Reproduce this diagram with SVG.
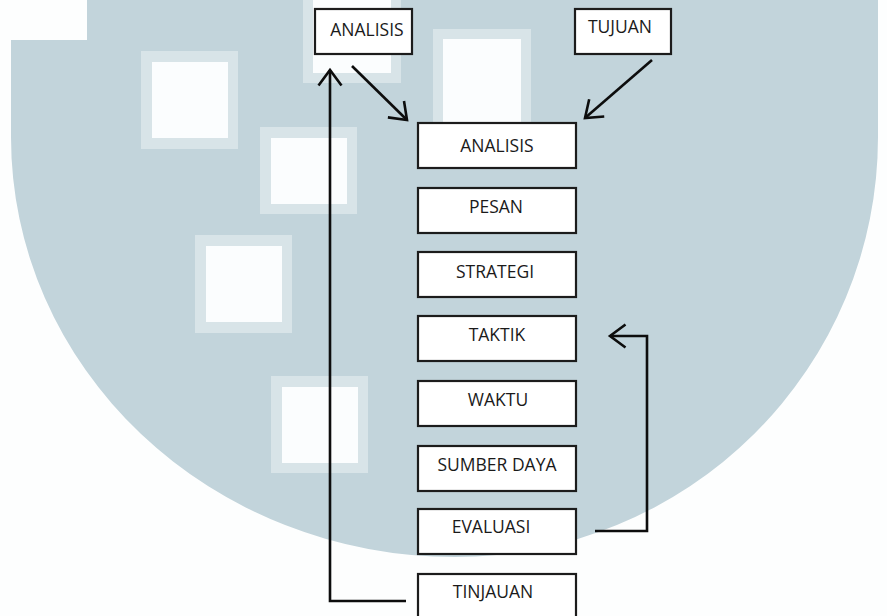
<svg xmlns="http://www.w3.org/2000/svg" width="887" height="616" viewBox="0 0 887 616">
<defs>
<style>
.bg{fill:#c2d4db}
.sqo{fill:#d8e4e8}
.sqi{fill:#fbfdfe}
.box{fill:#ffffff;stroke:#1c1c1c;stroke-width:2.2}
.lbl{font-family:"Open Sans","Liberation Sans",sans-serif;font-size:17.5px;fill:#1a1a1a;text-anchor:middle}
.con{fill:none;stroke:#0d0d0d;stroke-width:2.6;marker-end:url(#chev)}
</style>
<marker id="chev" markerUnits="userSpaceOnUse" viewBox="-20 -15 25 30" refX="0" refY="0" markerWidth="25" markerHeight="30" orient="auto" overflow="visible">
<path d="M-15.5,-11.5 L0,0 L-15.5,11.5" fill="none" stroke="#0d0d0d" stroke-width="2.6" stroke-linejoin="miter"/>
</marker>
</defs>
<rect x="0" y="0" width="887" height="616" fill="#fdfefe"/>
<g id="background">
<path class="bg" d="M87,0 L878,0 L878,137 A423,420 0 0 1 455,557 A444,420 0 0 1 11,137 L11,40 L87,40 Z"/>
<rect class="sqo" x="141" y="51" width="97" height="98"/><rect class="sqi" x="152" y="62" width="76" height="76"/>
<rect class="sqo" x="260" y="127" width="97" height="87"/><rect class="sqi" x="271" y="138" width="76" height="66"/>
<rect class="sqo" x="195" y="235" width="97" height="98"/><rect class="sqi" x="206" y="246" width="76" height="76"/>
<rect class="sqo" x="271" y="376" width="97" height="97"/><rect class="sqi" x="282" y="387" width="76" height="76"/>
<rect class="sqo" x="433" y="29" width="98" height="94"/><rect class="sqi" x="443" y="39" width="78" height="84"/>
<rect class="sqo" x="303" y="0" width="98" height="83"/><rect class="sqi" x="313" y="0" width="78" height="73"/>
</g>
<g id="connectors">
<path class="con" d="M352,66 L407,120"/>
<path class="con" d="M652,60 L585,118"/>
<path class="con" d="M406,601 H330 V70"/>
<path class="con" d="M595,531 H647 V336 H610"/>
</g>
<g id="node-analisis-top"><rect class="box" x="315" y="9" width="97" height="45"/><text class="lbl" x="367" y="36">ANALISIS</text></g>
<g id="node-tujuan"><rect class="box" x="575" y="9" width="96" height="45"/><text class="lbl" x="620" y="33">TUJUAN</text></g>
<g id="node-analisis"><rect class="box" x="418" y="123" width="158" height="45"/><text class="lbl" x="497" y="152">ANALISIS</text></g>
<g id="node-pesan"><rect class="box" x="418" y="188" width="158" height="45"/><text class="lbl" x="496" y="213">PESAN</text></g>
<g id="node-strategi"><rect class="box" x="418" y="252" width="158" height="45"/><text class="lbl" x="495" y="278">STRATEGI</text></g>
<g id="node-taktik"><rect class="box" x="418" y="316" width="158" height="45"/><text class="lbl" x="497" y="341">TAKTIK</text></g>
<g id="node-waktu"><rect class="box" x="418" y="381" width="158" height="45"/><text class="lbl" x="498" y="406">WAKTU</text></g>
<g id="node-sumber-daya"><rect class="box" x="418" y="446" width="158" height="45"/><text class="lbl" x="497" y="471">SUMBER DAYA</text></g>
<g id="node-evaluasi"><rect class="box" x="418" y="509" width="158" height="45"/><text class="lbl" x="491" y="533">EVALUASI</text></g>
<g id="node-tinjauan"><rect class="box" x="418" y="574" width="158" height="50"/><text class="lbl" x="493" y="598">TINJAUAN</text></g>
</svg>
